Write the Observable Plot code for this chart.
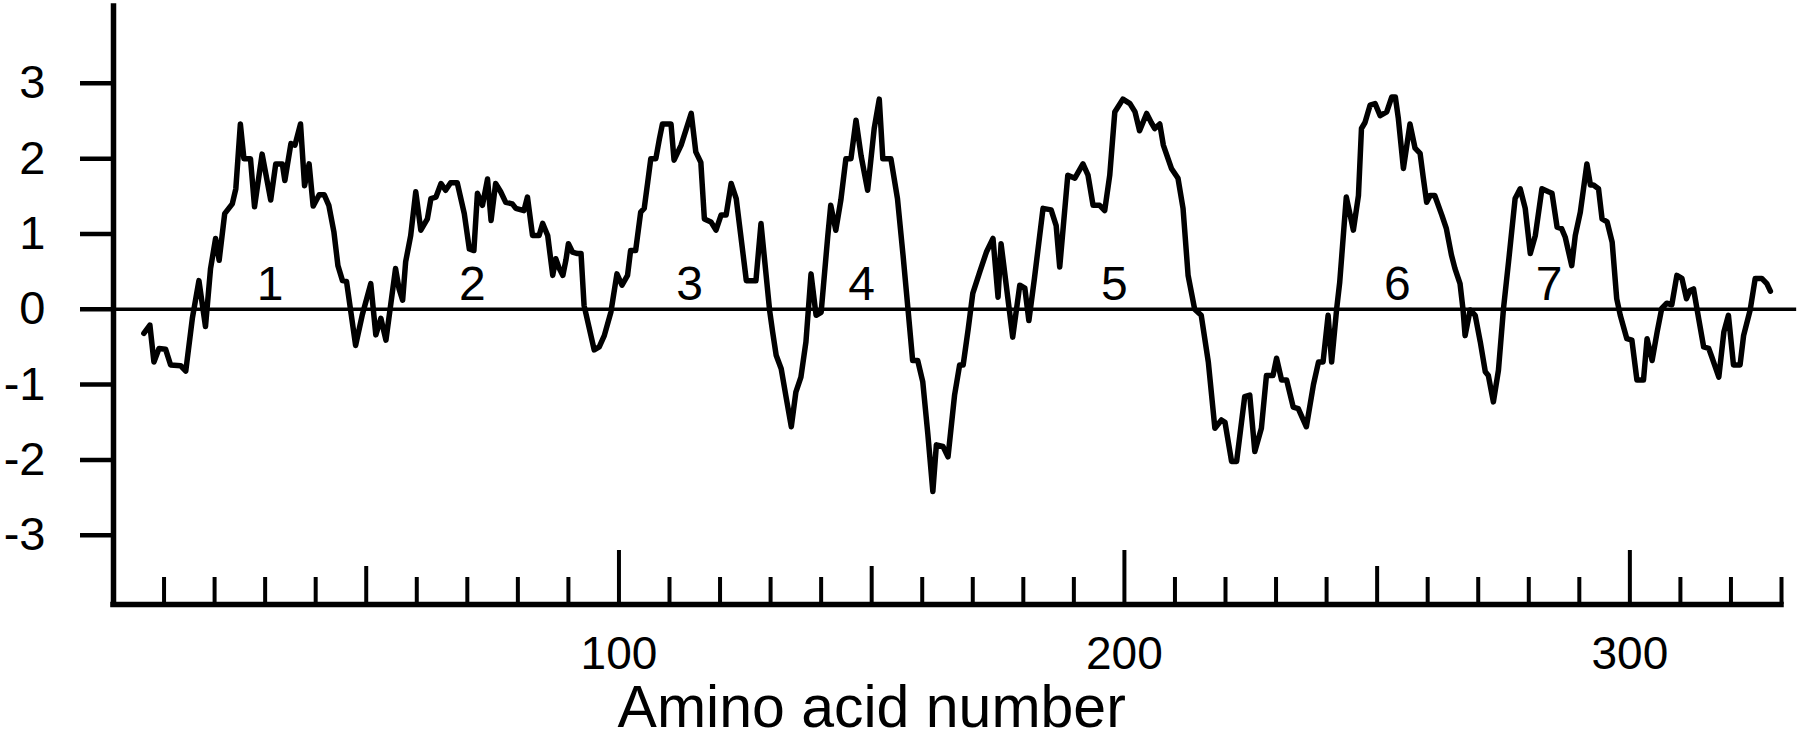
<!DOCTYPE html>
<html>
<head>
<meta charset="utf-8">
<script src="https://cdn.jsdelivr.net/npm/d3@7"></script>
<script src="https://cdn.jsdelivr.net/npm/@observablehq/plot@0.6"></script>
<style>
  html, body { margin: 0; padding: 0; background: #fff; }
  #chart { width: 1800px; height: 744px; overflow: hidden; }
</style>
</head>
<body>
<div id="chart"></div>
<script>
// Amino acid position (x) and hydropathy value (y)
const aminoAcid = [
  6.0, 7.2, 8.0, 9.0, 10.3, 11.3, 13.3, 14.3, 15.6, 16.9, 18.2, 19.2, 20.2, 20.9, 22.0, 23.5, 24.2, 25.1, 25.8, 27.1,
  27.9, 29.4, 31.1, 32.1, 33.4, 33.9, 35.1, 35.9, 37.0, 37.8, 38.7, 39.5, 40.7, 41.7, 42.6, 43.6, 44.4, 45.3, 46.1, 47.9,
  49.2, 50.9, 51.9, 52.9, 53.9, 55.8, 56.5, 57.2, 57.8, 58.8, 59.8, 60.8, 62.1, 62.8, 63.8, 64.8, 65.7, 66.7, 68.0, 69.4,
  70.4, 71.3, 72.0, 73.0, 74.0, 74.7, 75.6, 76.6, 77.6, 78.9, 79.6, 81.2, 81.9, 82.9, 84.2, 84.9, 85.9, 86.9, 87.5, 88.2,
  88.9, 89.5, 90.0, 90.8, 91.8, 92.5, 93.1, 95.1, 96.1, 97.1, 98.4, 99.6, 100.6, 101.7, 102.3, 103.3, 104.3, 105.0, 105.7, 106.3,
  107.3, 108.0, 108.6, 110.3, 110.9, 112.3, 114.3, 115.2, 116.2, 116.9, 118.2, 119.2, 120.2, 121.2, 122.2, 123.2, 125.2, 127.1, 128.1, 129.8,
  130.4, 131.1, 132.1, 133.1, 134.1, 135.0, 136.0, 137.0, 138.0, 139.0, 140.0, 141.3, 141.9, 142.9, 143.9, 144.9, 145.9, 146.9, 147.9, 149.2,
  150.5, 151.5, 152.2, 153.8, 155.1, 156.2, 157.2, 158.1, 159.1, 160.1, 161.1, 162.1, 162.8, 164.1, 165.1, 166.4, 167.4, 168.1, 169.1, 170.0,
  171.4, 172.7, 174.0, 175.0, 175.6, 177.9, 179.3, 180.3, 181.1, 182.2, 183.9, 185.5, 186.5, 187.2, 188.8, 190.2, 191.8, 192.8, 193.8, 195.1,
  196.1, 197.1, 198.1, 199.7, 201.1, 202.1, 203.0, 204.4, 205.3, 206.0, 207.0, 207.7, 209.3, 210.6, 211.6, 212.6, 213.9, 215.2, 216.6, 217.9,
  219.2, 219.9, 221.2, 222.2, 223.8, 224.8, 225.8, 227.1, 228.1, 229.4, 230.1, 231.1, 232.1, 233.4, 234.4, 236.0, 237.4, 238.4, 239.3, 240.3,
  241.0, 242.0, 242.6, 243.9, 245.3, 246.3, 246.9, 247.6, 248.6, 249.6, 250.6, 251.9, 252.9, 253.6, 254.2, 255.2, 256.5, 257.5, 258.5, 259.1,
  259.8, 260.5, 261.4, 262.8, 263.7, 264.7, 265.4, 266.4, 267.0, 267.4, 268.4, 269.4, 270.4, 271.4, 272.0, 273.0, 274.0, 275.0, 276.0, 277.3,
  278.3, 279.3, 280.3, 281.3, 282.6, 283.9, 284.6, 285.6, 286.5, 287.2, 288.5, 289.2, 290.2, 291.5, 292.2, 292.8, 293.8, 294.5, 295.5, 296.5,
  297.4, 298.1, 299.4, 300.4, 301.4, 302.7, 303.4, 304.4, 305.4, 306.3, 307.3, 308.3, 309.3, 310.3, 311.2, 311.9, 312.6, 313.6, 314.6, 315.6,
  316.2, 317.6, 318.6, 319.5, 320.5, 321.8, 322.5, 323.8, 324.8, 326.1, 327.1, 327.8
];
const hydropathy = [
  -0.32, -0.21, -0.70, -0.52, -0.53, -0.74, -0.75, -0.82, -0.12, 0.38, -0.23, 0.54, 0.94, 0.65, 1.27, 1.40, 1.60, 2.46, 2.00, 2.00,
  1.36, 2.06, 1.45, 1.93, 1.93, 1.71, 2.20, 2.18, 2.46, 1.64, 1.93, 1.37, 1.52, 1.52, 1.38, 1.03, 0.58, 0.38, 0.37, -0.48,
  -0.08, 0.34, -0.34, -0.12, -0.41, 0.54, 0.27, 0.12, 0.63, 0.98, 1.56, 1.05, 1.20, 1.47, 1.49, 1.67, 1.58, 1.68, 1.68, 1.27,
  0.80, 0.78, 1.54, 1.38, 1.73, 1.18, 1.67, 1.56, 1.42, 1.40, 1.34, 1.31, 1.49, 0.98, 0.98, 1.14, 0.98, 0.45, 0.67, 0.54,
  0.45, 0.65, 0.87, 0.76, 0.74, 0.74, 0.05, -0.54, -0.50, -0.35, -0.04, 0.47, 0.32, 0.45, 0.78, 0.78, 1.29, 1.34, 1.69, 2.00,
  2.00, 2.26, 2.46, 2.46, 1.98, 2.18, 2.60, 2.09, 1.95, 1.20, 1.16, 1.05, 1.25, 1.25, 1.67, 1.47, 0.38, 0.38, 1.14, -0.01,
  -0.30, -0.61, -0.79, -1.18, -1.56, -1.10, -0.90, -0.43, 0.47, -0.08, -0.04, 0.96, 1.38, 1.05, 1.45, 2.00, 2.00, 2.51, 2.04, 1.58,
  2.40, 2.79, 2.00, 2.00, 1.47, 0.72, -0.01, -0.68, -0.68, -0.96, -1.65, -2.42, -1.80, -1.82, -1.96, -1.14, -0.74, -0.74, -0.26, 0.21,
  0.50, 0.76, 0.94, 0.16, 0.87, -0.37, 0.32, 0.28, -0.15, 0.41, 1.34, 1.32, 1.11, 0.56, 1.78, 1.74, 1.93, 1.78, 1.38, 1.38,
  1.31, 1.78, 2.62, 2.79, 2.73, 2.62, 2.37, 2.60, 2.48, 2.40, 2.46, 2.18, 1.87, 1.74, 1.34, 0.45, 0.00, -0.08, -0.70, -1.58,
  -1.47, -1.50, -2.02, -2.02, -1.16, -1.14, -1.89, -1.58, -0.88, -0.88, -0.65, -0.94, -0.94, -1.30, -1.32, -1.56, -1.00, -0.70, -0.70, -0.08,
  -0.70, 0.01, 0.36, 1.49, 1.05, 1.51, 2.40, 2.48, 2.71, 2.73, 2.57, 2.62, 2.82, 2.82, 2.53, 1.87, 2.46, 2.14, 2.07, 1.76,
  1.42, 1.51, 1.51, 1.25, 1.07, 0.72, 0.54, 0.34, -0.01, -0.35, -0.01, -0.08, -0.43, -0.83, -0.88, -1.23, -0.81, 0.01, 0.63, 1.47,
  1.60, 1.34, 0.74, 0.98, 1.60, 1.56, 1.54, 1.09, 1.07, 0.96, 0.58, 0.98, 1.29, 1.93, 1.65, 1.65, 1.60, 1.20, 1.16, 0.89,
  0.14, -0.08, -0.39, -0.41, -0.94, -0.94, -0.39, -0.68, -0.30, 0.01, 0.08, 0.06, 0.45, 0.41, 0.14, 0.25, 0.27, -0.12, -0.50, -0.52,
  -0.63, -0.90, -0.30, -0.08, -0.74, -0.74, -0.35, -0.01, 0.41, 0.41, 0.34, 0.24
];

// Transmembrane segment labels
const segmentNames = ["1", "2", "3", "4", "5", "6", "7"];
const segmentCenters = [31, 71, 114, 148, 198, 254, 284];
const segmentLabelLevel = 0.33;

// Axis ticks
const yTicks = [-3, -2, -1, 0, 1, 2, 3];
const xMinorTicks = [10, 20, 30, 40, 60, 70, 80, 90, 110, 120, 130, 140, 160, 170, 180, 190, 210, 220, 230, 240, 260, 270, 280, 290, 310, 320, 330];
const xMidTicks = [50, 150, 250];
const xMajorTicks = [100, 200, 300];
const xTitle = "Amino acid number";
const xTitleCenter = 150;
const xDomain = [0, 330];
const yDomain = [-3.92, 4.02];
const zeroLineEnd = 333;

const series = aminoAcid.map((a, i) => ({aa: a, h: hydropathy[i]}));
const segments = segmentNames.map((n, i) => ({name: n, x: segmentCenters[i], y: segmentLabelLevel}));

const ink = "#000";
const chart = Plot.plot({
  width: 1800,
  height: 744,
  marginLeft: 113,
  marginRight: 19,
  marginTop: 6,
  marginBottom: 140,
  x: {domain: xDomain},
  y: {domain: yDomain},
  style: {fontFamily: "'Liberation Sans', Arial, Helvetica, sans-serif", color: ink, background: "#fff", overflow: "visible"},
  marks: [
    Plot.ruleY([0], {x1: xDomain[0], x2: zeroLineEnd, stroke: ink, strokeWidth: 3.5}),
    Plot.line(series, {x: "aa", y: "h", stroke: ink, strokeWidth: 5.5, strokeLinejoin: "round", strokeLinecap: "round"}),
    Plot.text(segments, {x: "x", y: "y", text: "name", fontSize: 48, fill: ink}),
    Plot.axisY({ticks: yTicks, tickSize: 33, tickPadding: 35, fontSize: 47, strokeWidth: 4.5, label: null, tickFormat: d => String(d)}),
    Plot.axisX({ticks: xMinorTicks, tickSize: -27, strokeWidth: 4, tickFormat: () => "", label: null}),
    Plot.axisX({ticks: xMidTicks, tickSize: -38, strokeWidth: 4, tickFormat: () => "", label: null}),
    Plot.axisX({ticks: xMajorTicks, tickSize: -54, strokeWidth: 4, tickFormat: () => "", label: null}),
    Plot.axisX({ticks: xMajorTicks, tickSize: 0, tickPadding: 32, fontSize: 46, label: null}),
    Plot.ruleX([xDomain[0]], {stroke: ink, strokeWidth: 5.5, strokeLinecap: "square"}),
    Plot.ruleY([yDomain[0]], {x1: xDomain[0], x2: xDomain[1], stroke: ink, strokeWidth: 5.5, strokeLinecap: "square"}),
    Plot.text([xTitle], {x: () => xTitleCenter, frameAnchor: "bottom", dy: 122, fontSize: 59, fill: ink, text: d => d})
  ]
});
document.getElementById("chart").appendChild(chart);
</script>
</body>
</html>
